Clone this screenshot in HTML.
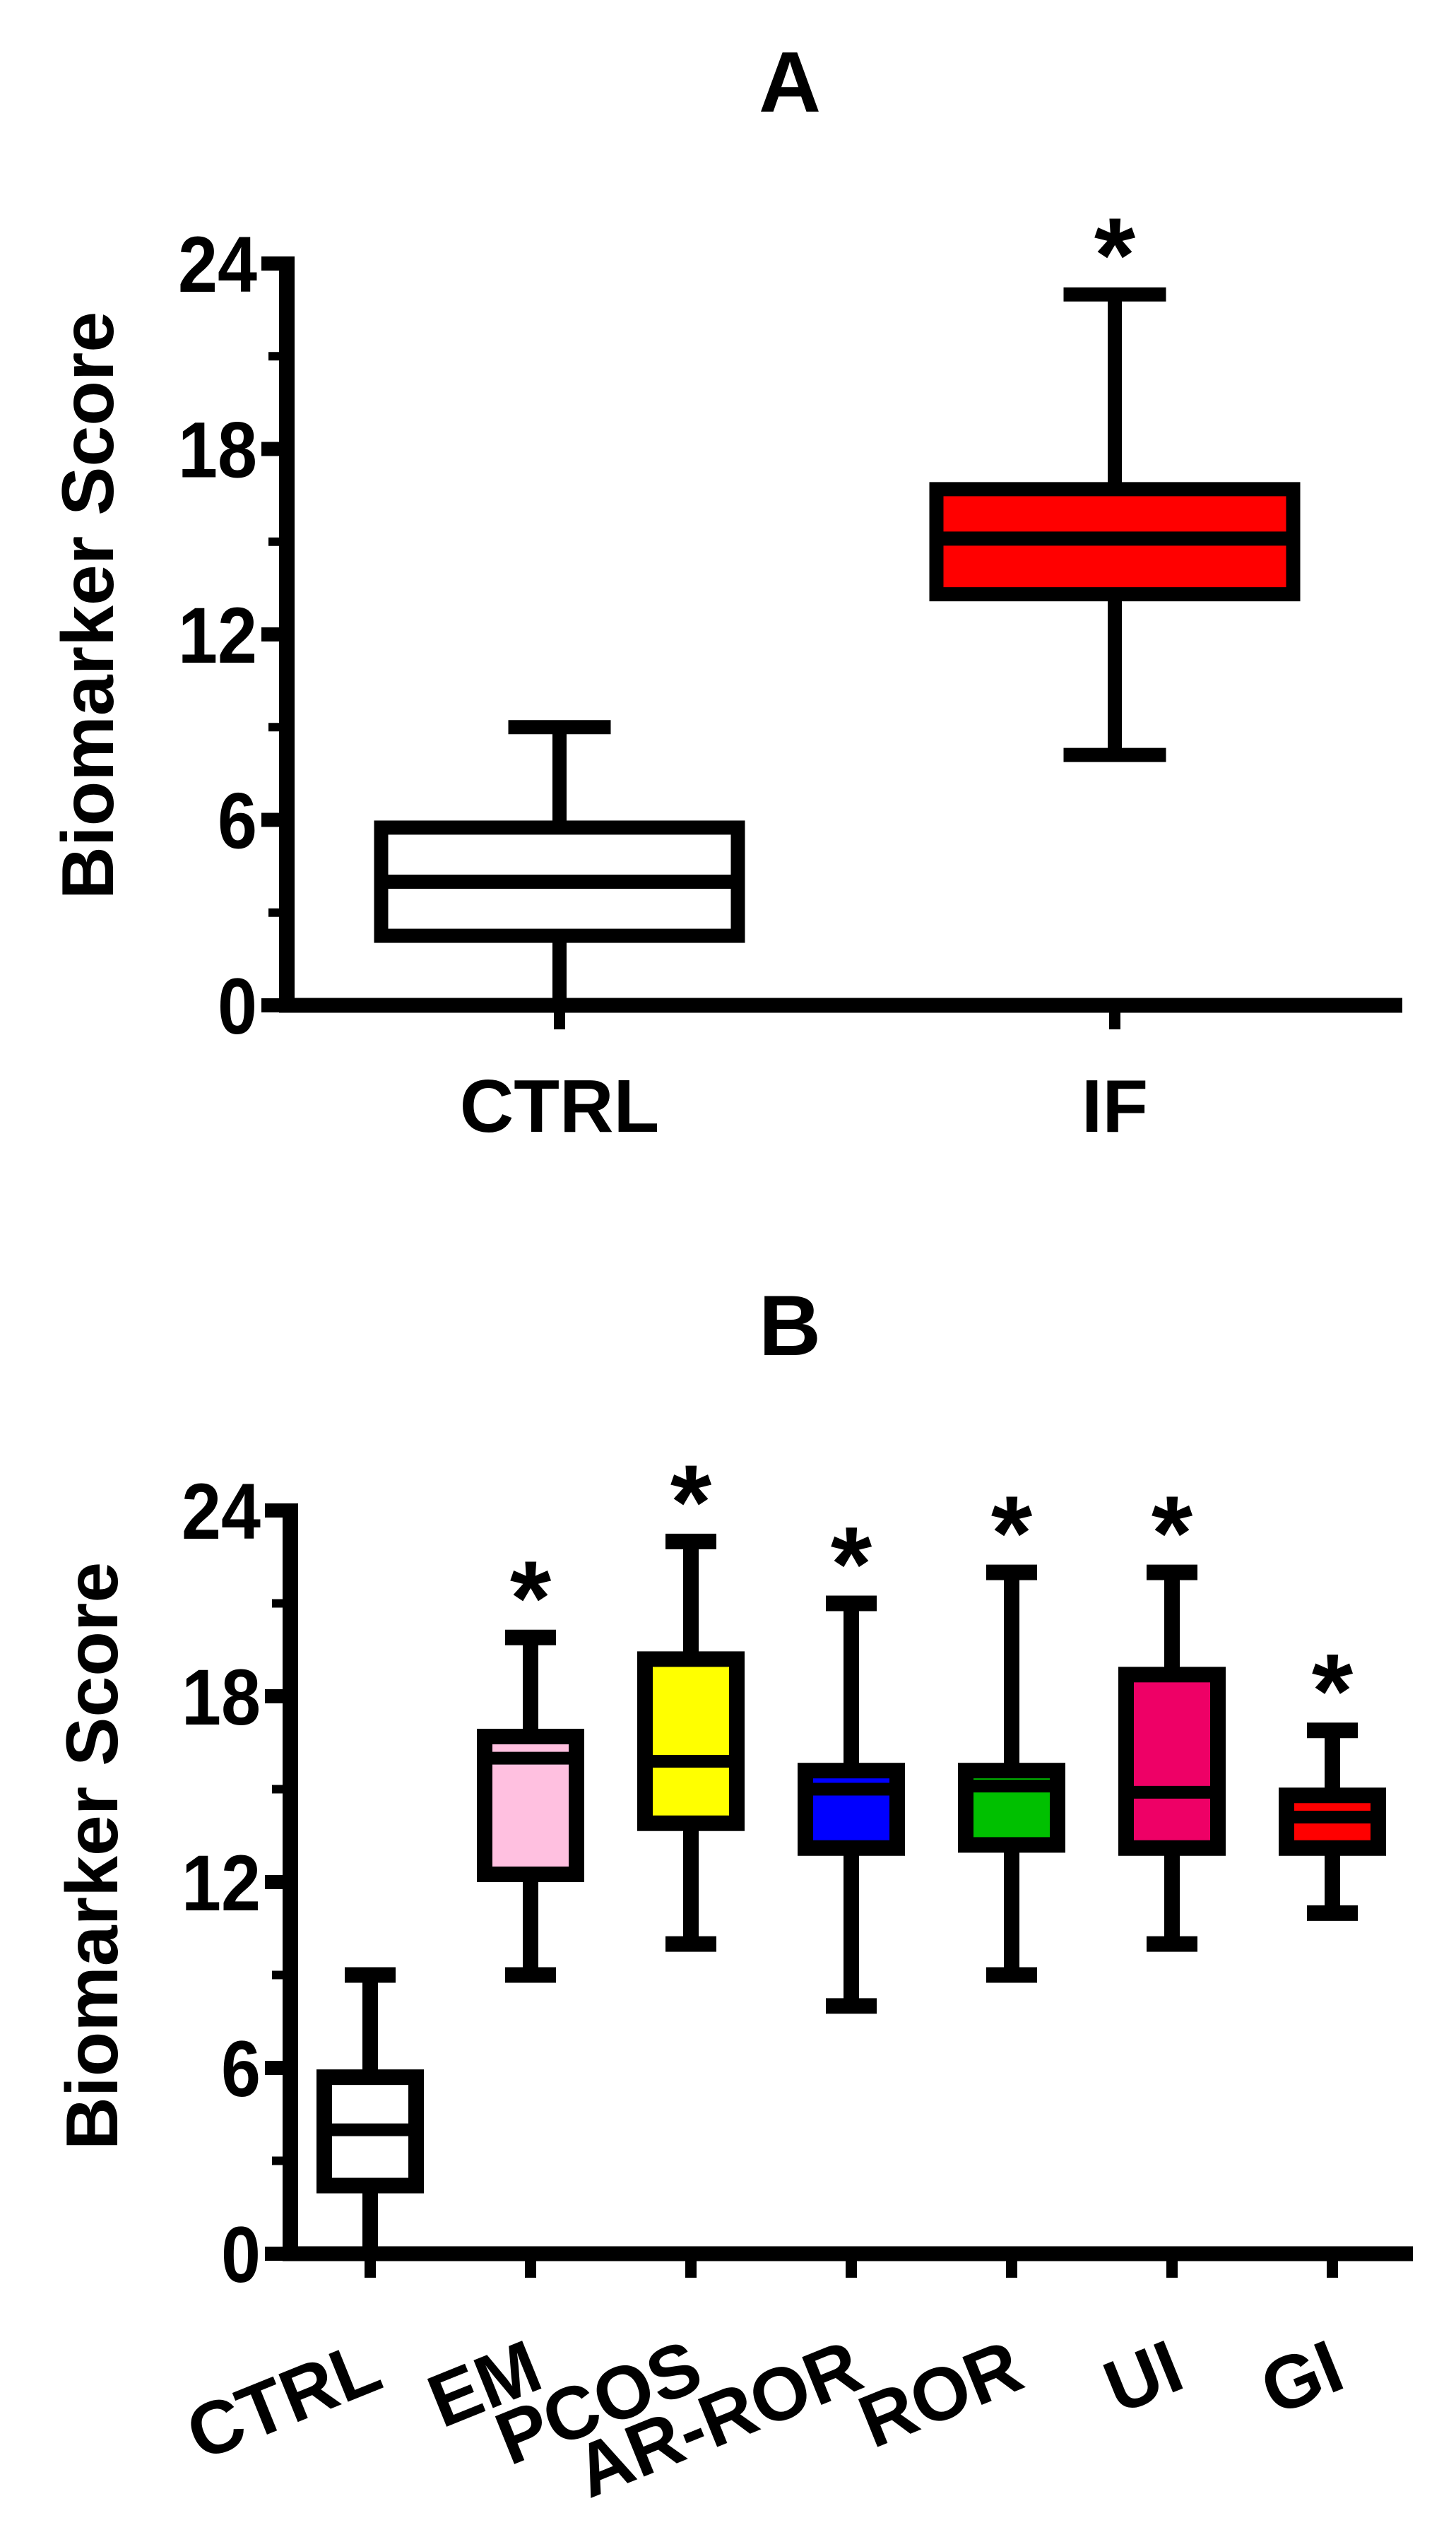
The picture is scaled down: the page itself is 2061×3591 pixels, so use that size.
<!DOCTYPE html>
<html><head><meta charset="utf-8"><style>
html,body{margin:0;padding:0;background:#fff;}
svg{display:block;}
text{font-family:"Liberation Sans",Arial,sans-serif;font-weight:bold;fill:#000;}
</style></head>
<body>
<svg id="fig" width="2061" height="3591" viewBox="0 0 2061 3591" xmlns="http://www.w3.org/2000/svg">
<text x="1118" y="158" font-size="122" text-anchor="middle">A</text>
<text x="1118" y="1918" font-size="122" text-anchor="middle">B</text>
<text transform="translate(160,857) rotate(-90)" font-size="104" text-anchor="middle">Biomarker Score</text>
<text transform="translate(166,2627) rotate(-90)" font-size="104" text-anchor="middle">Biomarker Score</text>
<g id="gA"></g>
<g id="gB"></g>
</svg>
<script>
// Panel A data
const catsA = ["CTRL", "IF"];
const minA = [0, 8.1];
const q1A = [2.25, 13.3];
const medA = [4, 15.1];
const q3A = [5.75, 16.7];
const maxA = [9, 23];
const colorsA = ["#ffffff", "#ff0000"];
const starA = [false, true];
// Panel B data
const catsB = ["CTRL", "EM", "PCOS", "AR-ROR", "ROR", "UI", "GI"];
const minB = [0, 9, 10, 8, 9, 10, 11];
const q1B = [2.2, 12.25, 13.9, 13.1, 13.2, 13.1, 13.1];
const medB = [4, 16, 15.9, 15, 15.1, 14.9, 14.1];
const q3B = [5.7, 16.7, 19.2, 15.6, 15.6, 18.7, 14.8];
const maxB = [9, 19.9, 23, 21, 22, 22, 16.9];
const colorsB = ["#ffffff", "#ffc0e0", "#ffff00", "#0000ff", "#00c000", "#ee0066", "#ff0000"];
const starB = [false, true, true, true, true, true, true];
const yTicks = [0, 6, 12, 18, 24];
const yMinor = [3, 9, 15, 21];

const NS = "http://www.w3.org/2000/svg";
function mk(tag, attrs, parent) {
  const e = document.createElementNS(NS, tag);
  for (const k in attrs) e.setAttribute(k, attrs[k]);
  parent.appendChild(e);
  return e;
}

function drawPanel(g, cfg) {
  const y = v => cfg.y0 - (cfg.y0 - cfg.y24) * v / 24;
  const x = i => cfg.x0 + i * cfg.step;
  const sw = cfg.sw;
  const ya = mk("line", {x1: cfg.ax, y1: cfg.y24 - 10, x2: cfg.ax, y2: cfg.y0 + 10, stroke: "#000", "stroke-width": 22}, g);
  
  
  const xa = mk("line", {x1: cfg.ax - 11, y1: cfg.y0, x2: cfg.xEnd, y2: cfg.y0, stroke: "#000", "stroke-width": 21}, g);
  
  
  yTicks.forEach(v => {
    const t = mk("line", {x1: cfg.ax - 36, y1: y(v), x2: cfg.ax, y2: y(v), stroke: "#000", "stroke-width": 20}, g);
    
    
    const l = mk("text", {x: cfg.ax - 42, y: y(v) + 40, "font-size": 112, "text-anchor": "end", textLength: String(v).length * 56, lengthAdjust: "spacingAndGlyphs"}, g);
    l.textContent = v;
    
    
  });
  yMinor.forEach(v => {
    const t = mk("line", {x1: cfg.ax - 26, y1: y(v), x2: cfg.ax, y2: y(v), stroke: "#000", "stroke-width": 12}, g);
    
    
  });
  cfg.cats.forEach((c, i) => {
    const cx = x(i);
    const t = mk("line", {x1: cx, y1: cfg.y0, x2: cx, y2: cfg.y0 + 34, stroke: "#000", "stroke-width": 16}, g);
    
    
    const w1 = mk("line", {x1: cx, y1: y(cfg.max[i]), x2: cx, y2: y(cfg.q3[i]), stroke: "#000", "stroke-width": sw}, g);
    
    
    const w2 = mk("line", {x1: cx, y1: y(cfg.q1[i]), x2: cx, y2: y(cfg.min[i]), stroke: "#000", "stroke-width": sw}, g);
    
    
    const cap1 = mk("line", {x1: cx - cfg.cap / 2, y1: y(cfg.max[i]), x2: cx + cfg.cap / 2, y2: y(cfg.max[i]), stroke: "#000", "stroke-width": sw}, g);
    
    
    if (cfg.min[i] > 0) {
      const cap2 = mk("line", {x1: cx - cfg.cap / 2, y1: y(cfg.min[i]), x2: cx + cfg.cap / 2, y2: y(cfg.min[i]), stroke: "#000", "stroke-width": sw}, g);
      
      
    }
    const b = mk("rect", {x: cx - cfg.bw / 2, y: y(cfg.q3[i]), width: cfg.bw, height: y(cfg.q1[i]) - y(cfg.q3[i]), fill: cfg.colors[i], stroke: "#000", "stroke-width": sw}, g);
    
    
    const m = mk("line", {x1: cx - cfg.bw / 2, y1: y(cfg.med[i]), x2: cx + cfg.bw / 2, y2: y(cfg.med[i]), stroke: "#000", "stroke-width": cfg.msw}, g);
    
    
    if (cfg.star[i]) {
      const s = mk("text", {x: cx, y: y(cfg.max[i]) - 4, "font-size": 150, "text-anchor": "middle"}, g);
      s.textContent = "*";
      
      
    }
    let l;
    if (cfg.rot) {
      l = mk("text", {transform: "translate(" + (cx + 22) + "," + cfg.labY + ") rotate(-22)", "font-size": 106, "text-anchor": "end"}, g);
    } else {
      l = mk("text", {x: cx, y: cfg.labY, "font-size": 106, "text-anchor": "middle"}, g);
    }
    l.textContent = c;
    
    
  });
}

drawPanel(document.getElementById("gA"), {
  cats: catsA, min: minA, q1: q1A, med: medA, q3: q3A, max: maxA, colors: colorsA, star: starA,
  ax: 406, y0: 1423, y24: 373, xEnd: 1985, x0: 792, step: 786, bw: 505, cap: 145, labY: 1602, rot: false, sw: 20, msw: 20
});
drawPanel(document.getElementById("gB"), {
  cats: catsB, min: minB, q1: q1B, med: medB, q3: q3B, max: maxB, colors: colorsB, star: starB,
  ax: 411, y0: 3190, y24: 2138, xEnd: 2000, x0: 524, step: 227, bw: 130, cap: 72, labY: 3378, rot: true, sw: 22, msw: 18
});
</script>
</body></html>
